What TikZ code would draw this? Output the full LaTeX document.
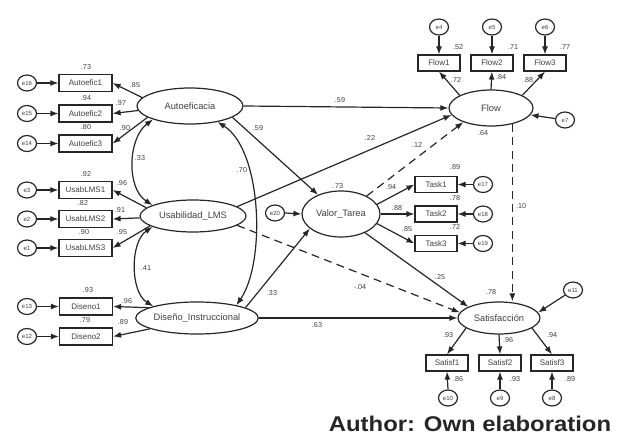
\documentclass[tikz,border=0pt]{standalone}
\usepackage{fontspec}
\setmainfont{Liberation Sans}
\usepackage{graphicx}
\usetikzlibrary{arrows.meta,shapes.geometric,calc}
\begin{document}
\begin{tikzpicture}[x=0.75pt,y=-0.75pt,
  ink/.style={draw=black!85, line width=0.9pt},
  lat/.style={ellipse, ink, inner sep=0pt, font=\fontsize{7}{8}\selectfont, text=black!75},
  ind/.style={rectangle, ink, minimum width=39.75pt, minimum height=12.75pt, inner sep=0pt, font=\fontsize{6}{7}\selectfont, text=black!75},
  indr/.style={ind, minimum width=31.5pt, minimum height=12pt},
  err/.style={ellipse, ink, minimum width=14.25pt, minimum height=12pt, inner sep=0pt, font=\fontsize{4.5}{5}\selectfont, text=black!75},
  num/.style={font=\fontsize{5.4}{6}\selectfont, text=black!75, inner sep=0pt},
  tip/.tip={Latex[length=6pt,width=4.5pt]},
  arr/.style={ink, -tip},
  dbl/.style={ink, tip-tip},
  dsh/.style={arr, dash pattern=on 6pt off 4pt}]
\useasboundingbox (0,0) rectangle (618,438);
% latent variables
\node[lat, minimum width=79.5pt, minimum height=27pt] (AE) at (190,106) {Autoeficacia};
\node[lat, minimum width=79.5pt, minimum height=24pt] (UL) at (193,216) {Usabilidad\_LMS};
\node[lat, minimum width=78pt, minimum height=24pt] (DI) at (197,318) {Diseño\_Instruccional};
\node[lat, minimum width=58.5pt, minimum height=34.5pt] (VT) at (341,214) {Valor\_Tarea};
\node[lat, minimum width=63pt, minimum height=27pt] (FL) at (491,108) {Flow};
\node[lat, minimum width=61.5pt, minimum height=24pt] (SA) at (499,318) {Satisfacción};
% left indicators
\node[ind] (A1) at (85.5,83) {Autoefic1};
\node[ind] (A2) at (85.5,113.5) {Autoefic2};
\node[ind] (A3) at (85.5,143.5) {Autoefic3};
\node[ind] (U1) at (85.5,190) {UsabLMS1};
\node[ind] (U2) at (85.5,219) {UsabLMS2};
\node[ind] (U3) at (85.5,248) {UsabLMS3};
\node[ind] (D1) at (86,306.5) {Diseno1};
\node[ind] (D2) at (86,336.5) {Diseno2};
\node[err] (e16) at (27,83) {e16};
\node[err] (e15) at (27,113.5) {e15};
\node[err] (e14) at (27,143.5) {e14};
\node[err] (e3) at (27,190) {e3};
\node[err] (e2) at (27,219) {e2};
\node[err] (e1) at (27,248) {e1};
\node[err] (e13) at (27,306.5) {e13};
\node[err] (e12) at (27,336.5) {e12};
% tasks
\node[indr] (T1) at (436,184.5) {Task1};
\node[indr] (T2) at (436,214) {Task2};
\node[indr] (T3) at (436,243.5) {Task3};
\node[err] (e17) at (483,184.5) {e17};
\node[err] (e18) at (483,214) {e18};
\node[err] (e19) at (483,243.5) {e19};
\node[err] (e20) at (275,213) {e20};
% flow
\node[indr] (F1) at (439,63) {Flow1};
\node[indr] (F2) at (492,63) {Flow2};
\node[indr] (F3) at (545,63) {Flow3};
\node[err] (e4) at (439,27) {e4};
\node[err] (e5) at (492,27) {e5};
\node[err] (e6) at (545,27) {e6};
\node[err] (e7) at (565,120) {e7};
% satisfaction
\node[indr] (S1) at (447,363) {Satisf1};
\node[indr] (S2) at (500,363) {Satisf2};
\node[indr] (S3) at (552,363) {Satisf3};
\node[err] (e10) at (448,398) {e10};
\node[err] (e9) at (500,398) {e9};
\node[err] (e8) at (552,398) {e8};
\node[err] (e11) at (573,290) {e11};
% error arrows
\foreach \e/\b in {e16/A1,e15/A2,e14/A3,e3/U1,e2/U2,e1/U3,e13/D1,e12/D2}
  \draw[arr] (\e.east) -- (\b.west);
\foreach \e/\b in {e17/T1,e18/T2,e19/T3}
  \draw[arr] (\e.west) -- (\b.east);
\foreach \e/\b in {e4/F1,e5/F2,e6/F3}
  \draw[arr] (\e.south) -- (\b.north);
\foreach \e/\b in {e10/S1,e9/S2,e8/S3}
  \draw[arr] (\e.north) -- (\b.south);
\draw[arr] (e20.east) -- (VT.west);
\draw[arr] (e7) -- (FL.-10);
\draw[arr] (e11) -- (SA.8);
% loadings
\draw[arr] (AE.170) -- (A1.east);
\draw[arr] (AE.185) -- (A2.east);
\draw[arr] (AE.195) -- (A3.east);
\draw[arr] (UL.170) -- (U1.east);
\draw[arr] (UL.182) -- (U2.east);
\draw[arr] (UL.193) -- (U3.east);
\draw[arr] (DI.168) -- (D1.east);
\draw[arr] (DI.193) -- (D2.east);
\draw[arr] (VT.15) -- (T1.west);
\draw[arr] (VT.east) -- (T2.west);
\draw[arr] (VT.-15) -- (T3.west);
\draw[arr] (FL.158) -- (F1.south);
\draw[arr] (FL.north) -- (F2.south);
\draw[arr] (FL.22) -- (F3.south);
\draw[arr] (SA.197) -- (S1.north);
\draw[arr] (SA.south) -- (S2.north);
\draw[arr] (SA.-17) -- (S3.north);
% covariances
\draw[dbl] (AE.200) .. controls (128,138) and (126,188) .. (UL.165);
\draw[dbl] (UL.195) .. controls (130,242) and (130,292) .. (DI.165);
\draw[dbl] (AE.-30) .. controls (262,150) and (266,262) .. (DI.18);
% structural paths
\draw[arr] (AE.east) -- (FL.west);
\draw[arr] (AE.-15) -- (VT.140);
\draw[arr] (UL.12) -- (FL.190);
\draw[dsh] (UL.-12) -- (SA.172);
\draw[arr] (DI.12) -- (VT.205);
\draw[arr] (DI.east) -- (SA.west);
\draw[dsh] (VT.35) -- (FL.207);
\draw[arr] (VT.-38) -- (SA.160);
\draw[dsh] (FL.-37) -- (FL.-37 |- SA.north);
% numbers
\node[num] (n1) at (86,67) {.73};
\node[num] (n2) at (86,98) {.94};
\node[num] (n3) at (86,127) {.80};
\node[num] (n4) at (135,85) {.85};
\node[num] (n5) at (121,103) {.97};
\node[num] (n6) at (125,128) {.90};
\node[num] (n7) at (86,174) {.92};
\node[num] (n8) at (83,203) {.82};
\node[num] (n9) at (84,232) {.90};
\node[num] (n10) at (122,183) {.96};
\node[num] (n11) at (120,210) {.91};
\node[num] (n12) at (122,232) {.95};
\node[num] (n13) at (88,290) {.93};
\node[num] (n14) at (85,320) {.79};
\node[num] (n15) at (127,301) {.96};
\node[num] (n16) at (123,322) {.89};
\node[num] (n17) at (140,158) {.33};
\node[num] (n18) at (146,268) {.41};
\node[num] (n19) at (242,170) {.70};
\node[num] (n20) at (340,100) {.59};
\node[num] (n21) at (258,128) {.59};
\node[num] (n22) at (370,138) {.22};
\node[num] (n23) at (417,145) {.12};
\node[num] (n24) at (360,287) {-.04};
\node[num] (n25) at (272,293) {.33};
\node[num] (n26) at (317,325) {.63};
\node[num] (n27) at (440,277) {.25};
\node[num] (n28) at (521,206) {.10};
\node[num] (n29) at (338,186) {.73};
\node[num] (n30) at (391,187) {.94};
\node[num] (n31) at (397,208) {.88};
\node[num] (n32) at (407,229) {.85};
\node[num] (n33) at (455,167) {.89};
\node[num] (n34) at (455,198) {.78};
\node[num] (n35) at (455,227) {.72};
\node[num] (n36) at (458,47) {.52};
\node[num] (n37) at (513,47) {.71};
\node[num] (n38) at (565,47) {.77};
\node[num] (n39) at (456,80) {.72};
\node[num] (n40) at (501,77) {.84};
\node[num] (n41) at (528,80) {.88};
\node[num] (n42) at (483,133) {.64};
\node[num] (n43) at (491,292) {.78};
\node[num] (n44) at (448,335) {.93};
\node[num] (n45) at (508,340) {.96};
\node[num] (n46) at (552,335) {.94};
\node[num] (n47) at (458,379) {.86};
\node[num] (n48) at (515,379) {.93};
\node[num] (n49) at (570,379) {.89};
% caption
\node[font=\bfseries\fontsize{16}{18}\selectfont, text=black!85, inner sep=0pt] (cap) at (470,424) {\scalebox{1.12}[1]{Author: Own elaboration}};
\end{tikzpicture}
\end{document}
